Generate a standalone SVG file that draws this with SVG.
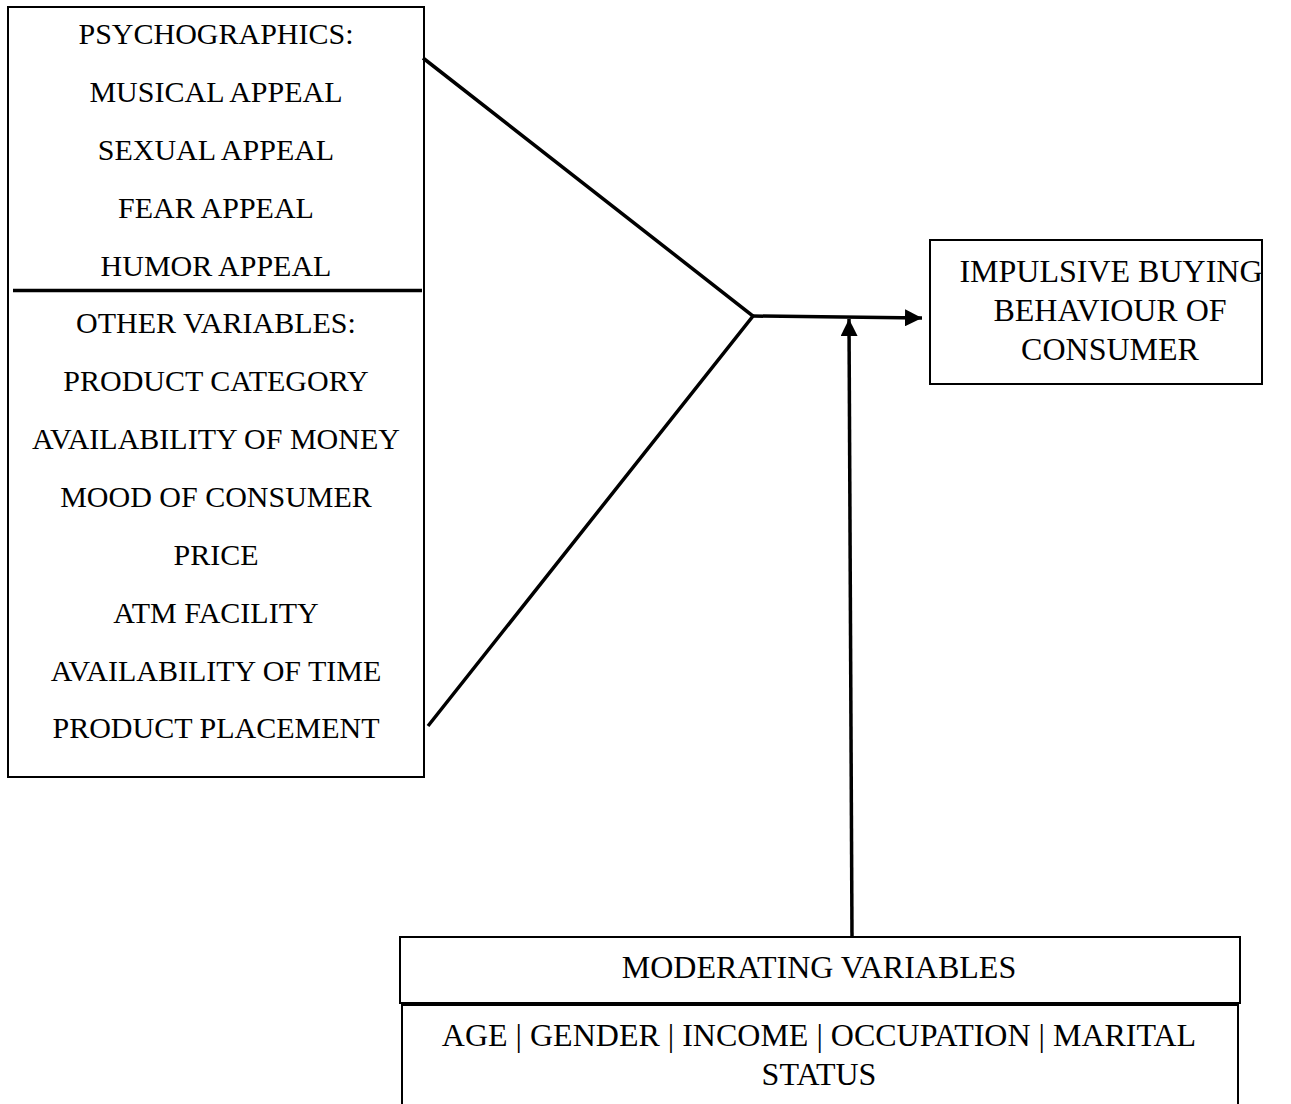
<svg xmlns="http://www.w3.org/2000/svg" width="1291" height="1104" viewBox="0 0 1291 1104">
<style>
text{font-family:"Liberation Serif","Times New Roman",serif;font-size:30px;fill:#000;text-anchor:middle}
.big{font-size:32px}
.box{fill:#fff;stroke:#000;stroke-width:2}
.ln{stroke:#000;stroke-width:3.5;fill:none}
</style>
<defs>
<marker id="ah" viewBox="0 0 10 10" refX="10" refY="5" markerWidth="17" markerHeight="17" markerUnits="userSpaceOnUse" orient="auto">
<path d="M0,0 L10,5 L0,10 z" fill="#000"/>
</marker>
</defs>
<rect width="1291" height="1104" fill="#fff"/>
<g id="left-box">
<rect class="box" x="8" y="7" width="416" height="770"/>
<line x1="13" y1="290.5" x2="422" y2="290.5" stroke="#000" stroke-width="3.5"/>
<text x="216" y="44">PSYCHOGRAPHICS:</text>
<text x="216" y="102">MUSICAL APPEAL</text>
<text x="216" y="160">SEXUAL APPEAL</text>
<text x="216" y="218">FEAR APPEAL</text>
<text x="216" y="276">HUMOR APPEAL</text>
<text x="216" y="333">OTHER VARIABLES:</text>
<text x="216" y="391">PRODUCT CATEGORY</text>
<text x="216" y="449">AVAILABILITY OF MONEY</text>
<text x="216" y="507">MOOD OF CONSUMER</text>
<text x="216" y="565">PRICE</text>
<text x="216" y="623">ATM FACILITY</text>
<text x="216" y="681">AVAILABILITY OF TIME</text>
<text x="216" y="738">PRODUCT PLACEMENT</text>
</g>
<g id="outcome">
<rect class="box" x="930" y="240" width="332" height="144"/>
<text class="big" x="1111" y="282">IMPULSIVE BUYING</text>
<text class="big" x="1110" y="321">BEHAVIOUR OF</text>
<text class="big" x="1110" y="360">CONSUMER</text>
</g>
<g id="moderating">
<rect class="box" x="400" y="937" width="840" height="66"/>
<line x1="402" y1="1004.5" x2="1238" y2="1004.5" stroke="#000" stroke-width="3.5"/>
<rect class="box" x="402" y="1005" width="836" height="105"/>
<text class="big" x="819" y="978">MODERATING VARIABLES</text>
<text class="big" x="819" y="1046">AGE | GENDER | INCOME | OCCUPATION | MARITAL</text>
<text class="big" x="819" y="1085">STATUS</text>
</g>
<g id="connectors">
<polyline class="ln" points="423,58 753,316 428,726"/>
<line class="ln" x1="753" y1="316" x2="922" y2="318" marker-end="url(#ah)"/>
<line class="ln" x1="852" y1="937" x2="849" y2="319" marker-end="url(#ah)"/>
</g>
</svg>
